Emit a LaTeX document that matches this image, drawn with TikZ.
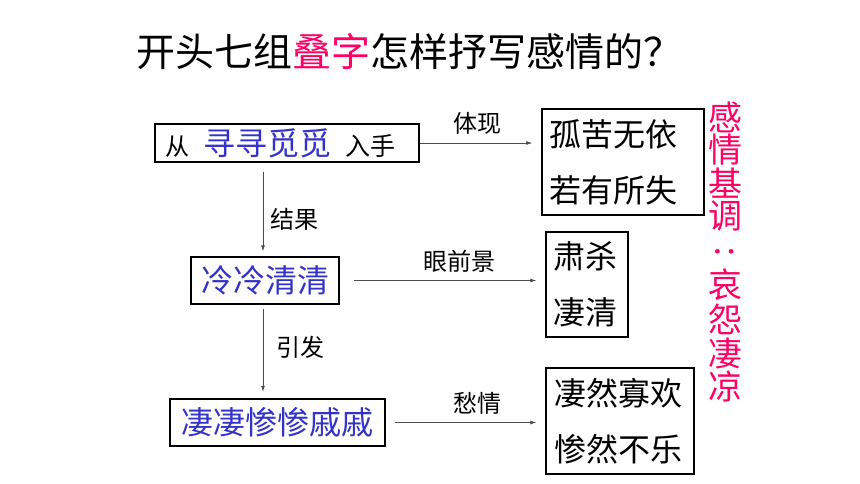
\documentclass[tikz,border=0pt]{standalone}
\usepackage{fontspec}
\usepackage{xcolor}
\usepackage{tikz}
\setmainfont{Noto Sans CJK SC}
\usetikzlibrary{arrows.meta}
\definecolor{stackblue}{RGB}{51,51,204}
\definecolor{moodpink}{RGB}{255,0,102}
\tikzset{
  stackbox/.style={draw, line width=1.5pt, inner sep=0pt, align=center},
  listbox/.style={draw, line width=1.5pt, align=left, inner xsep=7pt, inner ysep=0pt,
    font=\fontsize{32}{56}\selectfont},
  flow/.style={-{Latex[length=6pt,width=4pt]}, line width=0.7pt, black!70},
  linklabel/.style={inner sep=0pt, font=\fontsize{24}{24}\selectfont},
  moodchar/.style={inner sep=0pt, text=moodpink, font=\fontsize{34}{34}\selectfont},
}

\begin{document}
\begin{tikzpicture}[x=1pt,y=-1pt]
            \useasboundingbox (0,0) rectangle (860,484);
            \node[anchor=west, inner sep=0pt, font=\fontsize{39}{39}\selectfont] (title) at (136,52) {开头七组{\color{moodpink}叠字}怎样抒写感情的？};
            % left column
            \node[stackbox, minimum width=264pt, minimum height=38pt] (seek) at (287,143)
              {{\fontsize{24}{24}\selectfont 从}\hspace{14pt}{\color{stackblue}\fontsize{32}{32}\selectfont 寻寻觅觅}\hspace{14pt}{\fontsize{25}{25}\selectfont 入手}\hspace{13pt}};
            \node[stackbox, minimum width=148pt, minimum height=47pt, text=stackblue, font=\fontsize{32}{32}\selectfont] (cold) at (265,280.5) {冷冷清清};
            \node[stackbox, line width=2.5pt, minimum width=215pt, minimum height=47pt, text=stackblue, font=\fontsize{32}{32}\selectfont] (grief) at (277.5,422.5) {凄凄惨惨戚戚};
            % right column
            \node[listbox, text width=148pt, minimum height=106pt] (lonely) at (623,162) {孤苦无依\\若有所失};
            \node[listbox, text width=68pt, minimum height=105pt] (bleak) at (587,284.5) {肃杀\\凄清};
            \node[listbox, inner xsep=8pt, text width=132pt, minimum height=106pt] (sorrow) at (620,421) {凄然寡欢\\惨然不乐};
            % connectors
            \coordinate (trunk) at (263,0);
            \draw[flow, shorten <=9pt, shorten >=5pt] (seek.south -| trunk) -- (cold.north -| trunk);
            \draw[flow, shorten <=4pt, shorten >=6pt] (cold.south -| trunk) -- (grief.north -| trunk);
            \draw[flow, shorten >=9pt] (seek.east) -- (seek.east -| lonely.west);
            \draw[flow, shorten <=14pt, shorten >=9pt] (cold.east) -- (cold.east -| bleak.west);
            \draw[flow, shorten <=9pt, shorten >=9pt] (grief.east) -- (grief.east -| sorrow.west);
            \node[linklabel] (show) at (477,123) {体现};
            \node[linklabel] (result) at (294,219) {结果};
            \node[linklabel] (scene) at (459,261) {眼前景};
            \node[linklabel] (cause) at (300,347) {引发};
            \node[linklabel] (worry) at (477,403) {愁情};
            % keynote, one character per line, colon turned
            \foreach \ch/\yy [count=\i] in {感/117,情/150,基/183,调/216,哀/285,怨/319,凄/353,凉/386}
              \node[moodchar] (mood\i) at (725,\yy) {\ch};
            \node[moodchar, rotate=90] (moodcolon) at (725,252) {:};
        \end{tikzpicture}
\end{document}
